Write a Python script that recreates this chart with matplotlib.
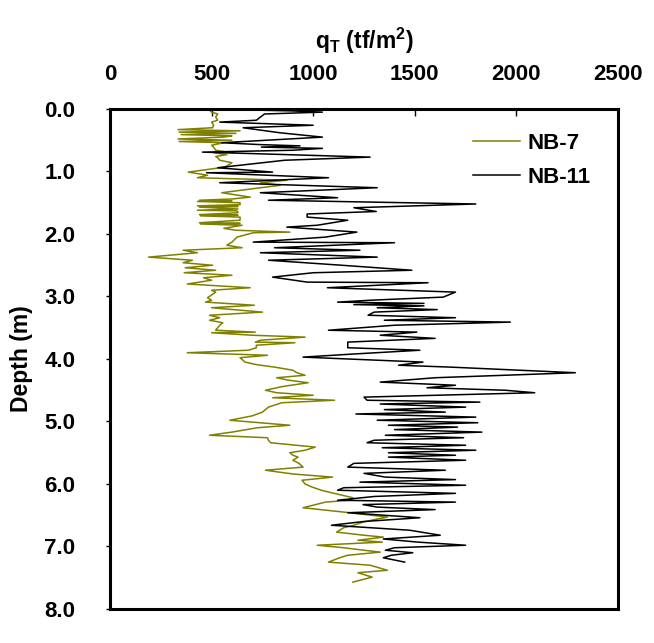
import numpy as np
import matplotlib
matplotlib.use("Agg")
import matplotlib.pyplot as plt

plt.rcParams['font.family'] = ['Liberation Sans', 'DejaVu Sans']
plt.rcParams['font.weight'] = 'bold'
plt.rcParams['mathtext.fontset'] = 'custom'
plt.rcParams['mathtext.bf'] = 'Liberation Sans:bold'
plt.rcParams['mathtext.rm'] = 'Liberation Sans:bold'

# NB-7 cone resistance profile (depth in m, qT in tf/m2)
nb7_depth = [0.00, 0.02, 0.05, 0.08, 0.13, 0.18, 0.21, 0.26, 0.30, 0.33,
             0.35, 0.37, 0.39, 0.41, 0.43, 0.45, 0.48, 0.50, 0.52, 0.54,
             0.58, 0.61, 0.66, 0.68, 0.70, 0.73, 0.76, 0.78, 0.82, 0.86,
             0.93, 1.01, 1.06, 1.10, 1.14, 1.18, 1.22, 1.26, 1.34, 1.41,
             1.44, 1.46, 1.47, 1.48, 1.50, 1.53, 1.55, 1.56, 1.57, 1.60,
             1.62, 1.63, 1.66, 1.69, 1.70, 1.71, 1.73, 1.78, 1.82, 1.83,
             1.84, 1.86, 1.91, 1.94, 1.97, 1.98, 2.05, 2.13, 2.18, 2.22,
             2.26, 2.30, 2.37, 2.42, 2.46, 2.50, 2.54, 2.58, 2.62, 2.66,
             2.70, 2.74, 2.80, 2.86, 2.90, 2.93, 3.02, 3.06, 3.09, 3.14,
             3.18, 3.25, 3.30, 3.34, 3.38, 3.42, 3.46, 3.54, 3.57, 3.58,
             3.62, 3.65, 3.70, 3.73, 3.74, 3.78, 3.82, 3.86, 3.90, 3.94,
             3.98, 4.05, 4.09, 4.13, 4.18, 4.22, 4.26, 4.30, 4.34, 4.38,
             4.44, 4.50, 4.54, 4.58, 4.62, 4.66, 4.70, 4.77, 4.85, 4.91,
             4.98, 5.06, 5.10, 5.17, 5.22, 5.26, 5.30, 5.34, 5.41, 5.46,
             5.50, 5.54, 5.57, 5.62, 5.67, 5.73, 5.78, 5.84, 5.89, 5.94,
             6.00, 6.05, 6.10, 6.14, 6.22, 6.26, 6.29, 6.34, 6.38, 6.46,
             6.53, 6.57, 6.61, 6.66, 6.70, 6.74, 6.77, 6.82, 6.85, 6.90,
             6.93, 6.98, 7.02, 7.06, 7.09, 7.14, 7.18, 7.25, 7.30, 7.38,
             7.42, 7.49, 7.57]
nb7_qt = [270, 490, 500, 530, 520, 530, 500, 510, 505, 335,
          640, 340, 620, 350, 600, 560, 335, 600, 340, 560,
          500, 510, 520, 560, 510, 575, 520, 530, 540, 600,
          565, 385, 480, 430, 870, 740, 840, 740, 550, 690,
          600, 440, 600, 430, 640, 640, 430, 630, 440, 630,
          430, 625, 630, 440, 630, 445, 640, 640, 440, 640,
          445, 650, 560, 620, 885, 705, 625, 600, 575, 650,
          360, 430, 190, 405, 360, 505, 370, 520, 365, 600,
          460, 500, 380, 690, 500, 520, 480, 500, 470, 710,
          500, 750, 490, 540, 490, 555, 540, 520, 715, 500,
          700, 960, 740, 715, 910, 720, 720, 680, 380, 775,
          640, 665, 720, 810, 900, 920, 960, 820, 880, 975,
          850, 765, 820, 1000, 800, 1105, 845, 780, 750, 700,
          590, 885, 725, 600, 490, 775, 780, 790, 1010, 960,
          885, 900, 925, 900, 930, 950, 765, 900, 1095, 945,
          960, 995, 1040, 1090, 1195, 1180, 1060, 1000, 950, 1180,
          1365, 1300, 1245, 1200, 1150, 1130, 1115, 1250, 1345, 1220,
          1340, 1020, 1150, 1250, 1330, 1170, 1130, 1075, 1280, 1365,
          1220, 1290, 1195]

# NB-11 cone resistance profile
nb11_depth = [0.00, 0.01, 0.02, 0.03, 0.05, 0.08, 0.13, 0.18, 0.21, 0.26,
              0.30, 0.38, 0.45, 0.54, 0.57, 0.59, 0.61, 0.63, 0.66, 0.69,
              0.77, 0.82, 0.94, 1.01, 1.02, 1.10, 1.18, 1.26, 1.34, 1.42,
              1.46, 1.52, 1.58, 1.64, 1.68, 1.73, 1.78, 1.86, 1.89, 1.97,
              2.05, 2.13, 2.14, 2.22, 2.26, 2.30, 2.37, 2.42, 2.50, 2.58,
              2.62, 2.69, 2.77, 2.78, 2.86, 2.93, 3.01, 3.06, 3.09, 3.11,
              3.13, 3.15, 3.18, 3.21, 3.25, 3.30, 3.34, 3.38, 3.41, 3.46,
              3.54, 3.57, 3.62, 3.67, 3.73, 3.82, 3.86, 3.92, 3.97, 4.05,
              4.10, 4.13, 4.22, 4.30, 4.37, 4.42, 4.46, 4.50, 4.54, 4.61,
              4.66, 4.69, 4.72, 4.77, 4.81, 4.85, 4.88, 4.93, 4.98, 5.02,
              5.06, 5.09, 5.13, 5.17, 5.22, 5.26, 5.30, 5.34, 5.38, 5.42,
              5.46, 5.50, 5.54, 5.57, 5.62, 5.67, 5.73, 5.78, 5.83, 5.89,
              5.93, 5.97, 6.02, 6.06, 6.10, 6.15, 6.20, 6.26, 6.29, 6.33,
              6.37, 6.41, 6.46, 6.54, 6.60, 6.66, 6.74, 6.82, 6.88, 6.93,
              6.98, 7.02, 7.06, 7.10, 7.14, 7.18, 7.22, 7.25]
nb11_qt = [740, 890, 745, 890, 1045, 760, 740, 720, 540, 1000,
           655, 835, 1045, 550, 740, 935, 745, 1045, 900, 455,
           1280, 860, 530, 800, 475, 1075, 540, 1315, 740, 1120,
           780, 1800, 1200, 1310, 970, 970, 1170, 1020, 870, 1215,
           1060, 705, 1400, 810, 1230, 740, 1315, 780, 1140, 1485,
           1000, 800, 970, 1565, 1070, 1700, 1640, 1280, 1120, 1545,
           1200, 1545, 1315, 1610, 1300, 1270, 1700, 1350, 1970, 1400,
           1075, 1510, 1330, 1600, 1170, 1170, 1525, 1200, 950, 1540,
           1420, 1675, 2290, 1600, 1330, 1700, 1560, 1945, 2090, 1250,
           1265, 1820, 1330, 1750, 1350, 1650, 1210, 1800, 1315, 1810,
           1370, 1710, 1400, 1830, 1355, 1740, 1300, 1265, 1750, 1340,
           1800, 1370, 1700, 1370, 1750, 1200, 1170, 1650, 1250, 1355,
           1700, 1230, 1750, 1150, 1120, 1700, 1300, 1120, 1700, 1245,
           1315, 1600, 1170, 1525, 1250, 1090, 1475, 1625, 1345, 1515,
           1750, 1400, 1355, 1490, 1385, 1345, 1405, 1450]

xticks = [0, 500, 1000, 1500, 2000, 2500]
yticks = np.arange(0, 8.5, 1.0)

fig = plt.figure(figsize=(6.54, 6.43), dpi=100)
ax = fig.add_axes([0.1682, 0.0529, 0.7768, 0.7776])

ax.plot(nb7_qt, nb7_depth, color='#808000', lw=1.1, label='NB-7')
ax.plot(nb11_qt, nb11_depth, color='black', lw=1.1, label='NB-11')

ax.set_xlim(0, 2500)
ax.set_ylim(8, 0)
ax.xaxis.tick_top()
ax.xaxis.set_label_position('top')
ax.set_xticks(xticks)
ax.set_yticks(yticks)
ax.set_yticklabels(['%.1f' % v for v in yticks])
ax.tick_params(axis='x', direction='in', length=5, width=1, labelsize=16, pad=17)
ax.tick_params(axis='y', direction='out', length=3, width=1, labelsize=16, pad=22)
for s in ax.spines.values():
    s.set_linewidth(2.2)

ax.set_xlabel(r'q$_\mathbf{T}$ (tf/m$^\mathbf{2}$)', fontsize=16.5, fontweight='bold', labelpad=11)
ax.set_ylabel('Depth (m)', fontsize=16.5, fontweight='bold', labelpad=8)

ax.legend(loc='upper left', bbox_to_anchor=(0.693, 0.975), frameon=False,
          handlelength=2.1, handletextpad=0.35, labelspacing=0.6,
          borderpad=0, prop={'size': 16, 'weight': 'bold'})

fig.savefig('out.png', dpi=100)
